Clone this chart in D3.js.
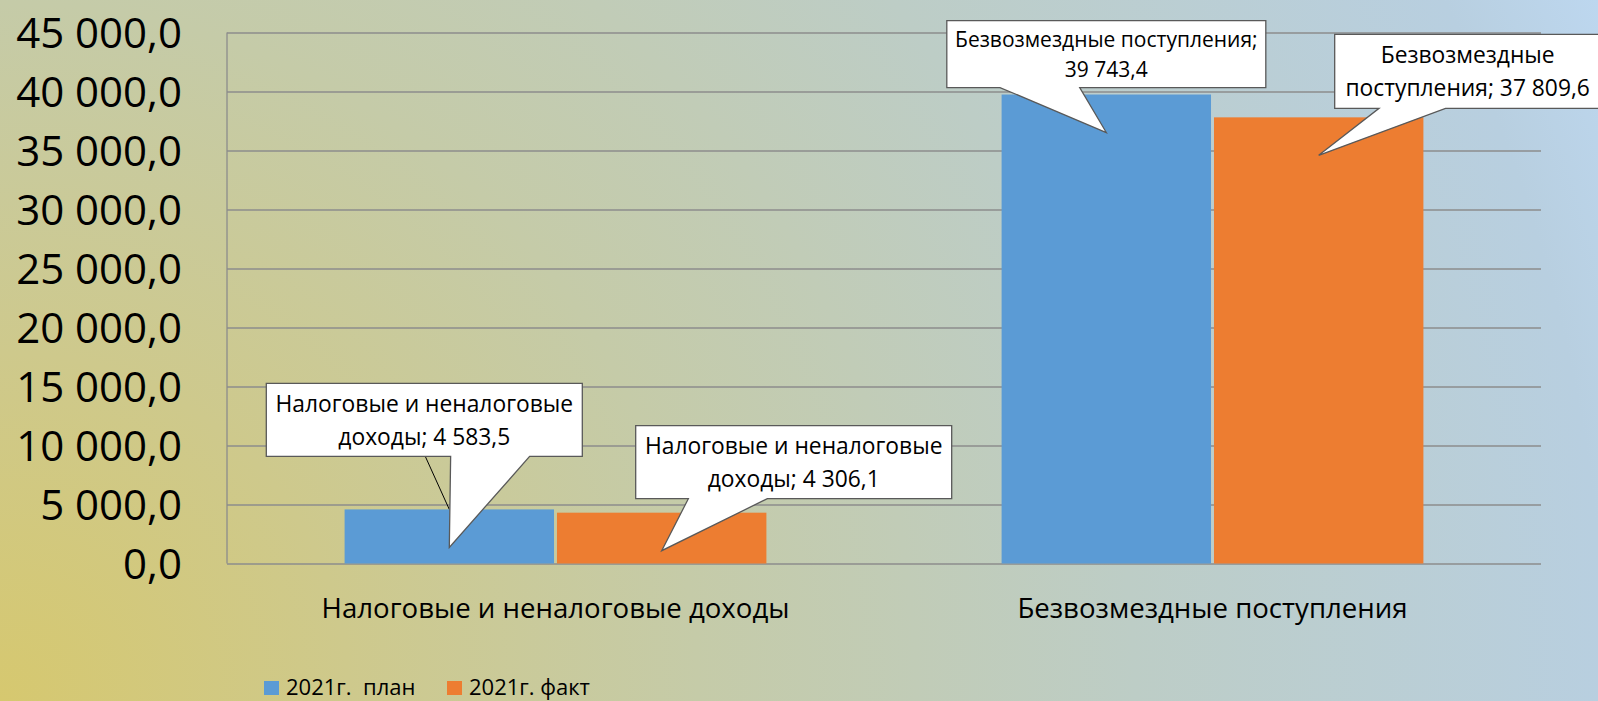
<!DOCTYPE html>
<html lang="ru">

<head>
    <meta charset="UTF-8">
    <title>Доходы 2021</title>
    <script src="https://d3js.org/d3.v7.min.js"></script>
    <style>
        body {
            margin: 0;
            overflow: hidden;
        }

        svg {
            display: block;
            font-family: "Open Sans", sans-serif;
        }
    </style>
</head>

<body>
    <div id="chart"></div>
    <script>
        // data
        const categories = ["Налоговые и неналоговые доходы", "Безвозмездные поступления"];
        const seriesNames = ["2021г.  план", "2021г. факт"];
        const planValues = [4583.5, 39743.4];
        const factValues = [4306.1, 37809.6];
        const yTicks = [0, 5000, 10000, 15000, 20000, 25000, 30000, 35000, 40000, 45000];
        const seriesColors = ["#5b9bd5", "#ed7d31"];

        // callout boxes, placed relative to the tip of the pointer
        const callouts = [
            { series: 0, cat: 0, dx: -25, dy: -127.5, w: 316, h: 73, fs: 22.8, split: 3, leader: true },
            { series: 1, cat: 0, dx: 132, dy: -88.5, w: 316, h: 73, fs: 22.8, split: 3 },
            { series: 0, cat: 1, dx: 0, dy: -78.5, w: 319, h: 67, fs: 21, split: 2 },
            { series: 1, cat: 1, dx: 149, dy: -84, w: 266, h: 74, fs: 22.8, split: 1 }
        ];

        const W = 1598, H = 701;
        const plot = { left: 227, right: 1541, top: 32.5, bottom: 563.5 };

        const ru = d3.formatLocale({ decimal: ",", thousands: " ", grouping: [3], currency: ["", ""] });
        const fmt = ru.format(",.1f");

        const svg = d3.select("#chart").append("svg")
            .attr("width", W)
            .attr("height", H);

        // background
        const grad = svg.append("defs").append("radialGradient")
            .attr("id", "bg")
            .attr("gradientUnits", "userSpaceOnUse")
            .attr("cx", 0).attr("cy", H).attr("r", 1745);
        [[0, "#d6c86f"], [0.2, "#cec98c"], [0.4, "#c5cba8"], [0.65, "#bdcdc6"], [0.92, "#b8cfe0"], [1, "#bdd7ef"]]
            .forEach(function (s) {
                grad.append("stop").attr("offset", s[0]).attr("stop-color", s[1]);
            });
        svg.append("rect").attr("width", W).attr("height", H).attr("fill", "url(#bg)");

        const y = d3.scaleLinear().domain([0, 45000]).range([plot.bottom, plot.top]);
        const x0 = d3.scaleBand().domain(categories).range([plot.left, plot.right])
            .paddingInner(0.358).paddingOuter(0.179);
        const x1 = d3.scaleBand().domain([0, 1]).range([0, x0.bandwidth()]).paddingInner(0.014);

        // gridlines
        svg.append("g")
            .attr("transform", "translate(" + plot.left + ",0)")
            .call(d3.axisLeft(y).tickValues(yTicks).tickSize(-(plot.right - plot.left)).tickFormat(""))
            .call(g => g.select(".domain").remove())
            .call(g => g.selectAll("line").attr("stroke", "#8c8c8c").attr("stroke-width", 1.3));

        svg.append("line")
            .attr("x1", plot.left).attr("x2", plot.left)
            .attr("y1", plot.top).attr("y2", plot.bottom)
            .attr("stroke", "#8c8c8c").attr("stroke-width", 1.3);

        // y labels
        svg.append("g")
            .attr("transform", "translate(182,0)")
            .call(d3.axisLeft(y).tickValues(yTicks).tickSize(0).tickPadding(0).tickFormat(fmt))
            .call(g => g.select(".domain").remove())
            .call(g => g.selectAll("text")
                .attr("fill", "#000")
                .style("font-family", "'Open Sans', sans-serif")
                .style("font-size", "42px")
                .attr("dy", "0.36em"));

        // category labels
        svg.append("g").selectAll("text")
            .data(categories)
            .join("text")
            .attr("x", d => x0(d) + x0.bandwidth() / 2)
            .attr("y", 618)
            .attr("text-anchor", "middle")
            .style("font-size", "27.6px")
            .attr("fill", "#000")
            .text(d => d);

        // bars
        const seriesValues = [planValues, factValues];
        const bars = [];
        seriesValues.forEach(function (vals, s) {
            vals.forEach(function (v, c) {
                bars.push({ s: s, c: c, v: v });
            });
        });

        svg.append("g").selectAll("rect")
            .data(bars)
            .join("rect")
            .attr("x", d => x0(categories[d.c]) + x1(d.s))
            .attr("y", d => y(d.v))
            .attr("width", x1.bandwidth())
            .attr("height", d => plot.bottom - y(d.v))
            .attr("fill", d => seriesColors[d.s]);

        // callouts
        const cg = svg.append("g");
        callouts.forEach(function (c) {
            const v = seriesValues[c.series][c.cat];
            const barCx = x0(categories[c.cat]) + x1(c.series) + x1.bandwidth() / 2;
            const tip = [barCx, y(v) + 38];
            const cx = tip[0] + c.dx, cy = tip[1] + c.dy;
            const bx0 = cx - c.w / 2, bx1 = cx + c.w / 2, by0 = cy - c.h / 2, by1 = cy + c.h / 2;

            if (c.leader) {
                cg.append("line")
                    .attr("x1", cx + 1).attr("y1", by1)
                    .attr("x2", barCx).attr("y2", y(v))
                    .attr("stroke", "#000").attr("stroke-width", 1);
            }

            const right = tip[0] - cx > 0;
            const far = right ? cx + c.w / 3 : cx - c.w / 12;
            const near = right ? cx + c.w / 12 : cx - c.w / 3;
            const path = "M" + bx0 + "," + by0 + "H" + bx1 + "V" + by1 + "H" + far +
                "L" + tip[0] + "," + tip[1] + "L" + near + "," + by1 + "H" + bx0 + "Z";
            cg.append("path")
                .attr("d", path)
                .attr("fill", "#fff")
                .attr("stroke", "#595959")
                .attr("stroke-width", 1.3)
                .attr("stroke-linejoin", "miter");

            const words = (categories[c.cat] + "; " + fmt(v)).split(" ");
            const lines = [words.slice(0, c.split).join(" "), words.slice(c.split).join(" ")];
            const gap = c.fs * 1.45;
            const base = cy + c.fs * 0.37 - gap / 2;
            cg.append("g").selectAll("text")
                .data(lines)
                .join("text")
                .attr("x", cx)
                .attr("y", (d, i) => base + i * gap)
                .attr("text-anchor", "middle")
                .style("font-size", c.fs + "px")
                .attr("fill", "#000")
                .text(d => d);
        });

        // legend
        const legendX = [264, 447];
        const lg = svg.append("g");
        seriesNames.forEach(function (name, i) {
            lg.append("rect")
                .attr("x", legendX[i]).attr("y", 681)
                .attr("width", 15).attr("height", 14)
                .attr("fill", seriesColors[i]);
            lg.append("text")
                .attr("x", legendX[i] + 22).attr("y", 695)
                .style("font-size", "22px")
                .style("white-space", "pre")
                .attr("fill", "#000")
                .text(name);
        });
    </script>
</body>

</html>
